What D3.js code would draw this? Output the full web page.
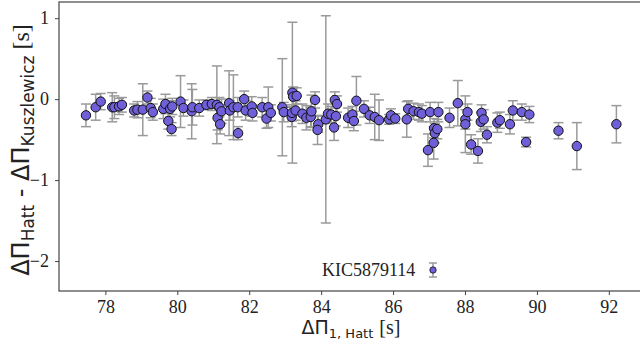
<!DOCTYPE html>
<html>
<head>
<meta charset="utf-8">
<script src="https://cdn.jsdelivr.net/npm/d3@7"></script>
<style>
  body { margin: 0; background: #fff; }
  svg { display: block; }
</style>
</head>
<body>
<svg id="chart" width="640" height="351"></svg>
<script>
// period spacing (Hatt), difference Hatt - Kuszlewicz, and its error bar
const period = [
  77.46, 77.73, 77.87, 78.19, 78.25, 78.38, 78.46, 78.80, 78.89, 79.04,
  79.17, 79.26, 79.32, 79.61, 79.67, 79.75, 79.84, 79.80, 79.86, 80.09,
  80.17, 80.40, 80.42, 80.61, 80.81, 80.96, 81.10, 81.12, 81.17, 81.19,
  81.23, 81.44, 81.46, 81.56, 81.69, 81.68, 81.86, 81.90, 82.07, 82.09,
  82.36, 82.48, 82.53, 82.60, 82.92, 82.96, 83.20, 83.22, 83.32, 83.18,
  83.19, 83.29, 83.48, 83.59, 83.71, 83.73, 83.83, 83.92, 83.90, 84.13,
  84.19, 84.28, 84.38, 84.44, 84.41, 84.36, 84.75, 84.87, 84.91, 84.98,
  85.19, 85.35, 85.49, 85.61, 85.89, 85.94, 86.06, 86.38, 86.42, 86.57,
  86.72, 86.80, 87.03, 86.97, 87.13, 87.14, 87.16, 87.23, 87.26, 87.57,
  87.80, 88.01, 88.01, 88.07, 88.17, 88.36, 88.46, 88.44, 88.52, 88.61,
  88.90, 88.97, 89.25, 89.33, 89.58, 89.70, 89.79, 90.60, 91.11, 92.21
];
const diff = [
  -0.20, -0.10, -0.03, -0.10, -0.10, -0.09, -0.07, -0.14, -0.13, -0.13,
   0.02, -0.11, -0.16, -0.12, -0.06, -0.27, -0.37, -0.12, -0.09, -0.03,
  -0.11, -0.15, -0.10, -0.11, -0.07, -0.06, -0.07, -0.23, -0.10, -0.31,
  -0.15, -0.05, -0.14, -0.10, -0.42, -0.10,  0.00, -0.14, -0.09, -0.17,
  -0.10, -0.24, -0.10, -0.17, -0.10, -0.16,  0.08,  0.03,  0.04, -0.22,
  -0.17, -0.14, -0.18, -0.23, -0.22, -0.15, -0.01, -0.31, -0.38, -0.25,
  -0.18, -0.19, -0.01, -0.06, -0.21, -0.35, -0.23, -0.19, -0.27, -0.02,
  -0.12, -0.20, -0.22, -0.26, -0.25, -0.20, -0.24, -0.25, -0.12, -0.15,
  -0.16, -0.18, -0.16, -0.63, -0.54, -0.36, -0.42, -0.37, -0.16, -0.23,
  -0.05, -0.25, -0.31, -0.16, -0.56, -0.64, -0.17, -0.28, -0.25, -0.44,
  -0.29, -0.26, -0.31, -0.14, -0.16, -0.53, -0.19, -0.39, -0.58, -0.31
];
const err = [
  0.14, 0.16, 0.10, 0.18, 0.14, 0.10, 0.09, 0.08, 0.10, 0.32,
  0.08, 0.12, 0.10, 0.12, 0.12, 0.10, 0.08, 0.10, 0.10, 0.32,
  0.10, 0.34, 0.22, 0.10, 0.06, 0.08, 0.48, 0.15, 0.12, 0.12,
  0.15, 0.40, 0.12, 0.40, 0.08, 0.12, 0.10, 0.12, 0.12, 0.10,
  0.12, 0.12, 0.25, 0.10, 0.60, 0.12, 0.87, 0.12, 0.10, 0.12,
  0.10, 0.12, 0.12, 0.15, 0.12, 0.20, 0.10, 0.10, 0.18, 1.28,
  0.12, 0.10, 0.10, 0.10, 0.12, 0.16, 0.12, 0.10, 0.12, 0.30,
  0.10, 0.10, 0.28, 0.25, 0.06, 0.08, 0.06, 0.22, 0.10, 0.10,
  0.10, 0.10, 0.12, 0.20, 0.20, 0.12, 0.12, 0.12, 0.12, 0.12,
  0.28, 0.12, 0.35, 0.10, 0.12, 0.15, 0.10, 0.12, 0.12, 0.10,
  0.12, 0.10, 0.12, 0.12, 0.10, 0.06, 0.10, 0.10, 0.29, 0.23
];
const xTicks = [78, 80, 82, 84, 86, 88, 90, 92];
const yTicks = [1, 0, -1, -2];
const legendLabel = 'KIC5879114';

const data = period.map((p, i) => ({ p, d: diff[i], e: err[i] }));

const svg = d3.select('#chart');
const margin = { left: 59, top: 2, right: 643, bottom: 291 };

const x = d3.scaleLinear().domain([76.71, 92.95]).range([margin.left, margin.right]);
const y = d3.scaleLinear().domain([-2.37, 1.2]).range([margin.bottom, margin.top]);

const serif = '"Liberation Serif", "Times New Roman", serif';
const sans = '"DejaVu Sans", sans-serif';
const barColor = '#9a9a9a';
const fillColor = '#6f5fd8';

// axes
const xAxis = svg.append('g')
  .attr('transform', `translate(0,${margin.bottom})`)
  .call(d3.axisBottom(x).tickValues(xTicks).tickSize(4).tickPadding(5).tickFormat(d3.format('d')));
const yAxis = svg.append('g')
  .attr('transform', `translate(${margin.left},0)`)
  .call(d3.axisLeft(y).tickValues(yTicks).tickSize(4).tickPadding(6)
    .tickFormat((d) => (d < 0 ? '\u2212' + Math.abs(d) : d)));

[xAxis, yAxis].forEach((a) => {
  a.attr('font-family', null).attr('font-size', null);
  a.select('.domain').remove();
  a.selectAll('line').attr('stroke', '#444').attr('stroke-width', 1);
  a.selectAll('text')
    .style('font-family', serif).style('font-size', '18px').attr('fill', '#222');
});

// frame
svg.append('rect')
  .attr('x', margin.left).attr('y', margin.top)
  .attr('width', margin.right - margin.left).attr('height', margin.bottom - margin.top)
  .attr('fill', 'none').attr('stroke', '#444').attr('stroke-width', 1.2);

// error bars
const bars = svg.append('g').attr('stroke', barColor).attr('stroke-width', 1.5).attr('fill', 'none');
data.forEach((r) => {
  const cx = x(r.p), y0 = y(r.d - r.e), y1 = y(r.d + r.e);
  bars.append('line').attr('x1', cx).attr('x2', cx).attr('y1', y0).attr('y2', y1);
  bars.append('line').attr('x1', cx - 5).attr('x2', cx + 5).attr('y1', y0).attr('y2', y0);
  bars.append('line').attr('x1', cx - 5).attr('x2', cx + 5).attr('y1', y1).attr('y2', y1);
});

// points
svg.append('g')
  .selectAll('circle')
  .data(data)
  .enter()
  .append('circle')
  .attr('cx', (r) => x(r.p))
  .attr('cy', (r) => y(r.d))
  .attr('r', 4.7)
  .attr('fill', fillColor)
  .attr('stroke', '#111')
  .attr('stroke-width', 1);

// legend
const lg = svg.append('g').attr('transform', 'translate(322,270)');
lg.append('text')
  .attr('x', 0).attr('y', 6)
  .style('font-family', serif).style('font-size', '18px').attr('fill', '#222')
  .text(legendLabel);
lg.append('line').attr('x1', 111).attr('x2', 111).attr('y1', -7).attr('y2', 7)
  .attr('stroke', barColor).attr('stroke-width', 1.5);
[-7, 7].forEach((dy) => {
  lg.append('line').attr('x1', 107).attr('x2', 115).attr('y1', dy).attr('y2', dy)
    .attr('stroke', barColor).attr('stroke-width', 1.5);
});
lg.append('circle').attr('cx', 111).attr('cy', 0).attr('r', 3.2)
  .attr('fill', fillColor).attr('stroke', '#111').attr('stroke-width', 0.8);

// x label
const xl = svg.append('text')
  .attr('x', 351).attr('y', 334)
  .attr('text-anchor', 'middle')
  .style('font-family', sans).style('font-size', '19px').attr('fill', '#222');
xl.append('tspan').text('\u0394\u03a0');
xl.append('tspan').style('font-size', '13px').attr('dy', 4).text('1, Hatt');
xl.append('tspan').attr('dy', -4).text(' ');
xl.append('tspan').style('font-family', serif).style('font-size', '20px').text('[s]');

// y label
const yl = svg.append('text')
  .attr('transform', 'translate(29,150) rotate(-90)')
  .attr('text-anchor', 'middle')
  .style('font-family', sans).style('font-size', '24px').attr('fill', '#222');
yl.append('tspan').text('\u0394\u03a0');
yl.append('tspan').style('font-size', '17px').attr('dy', 5).text('Hatt');
yl.append('tspan').attr('dy', -5).text(' - \u0394\u03a0');
yl.append('tspan').style('font-size', '17px').attr('dy', 5).text('Kuszlewicz');
yl.append('tspan').attr('dy', -5).style('font-family', serif).style('font-size', '24px').text(' [s]');
</script>
</body>
</html>
